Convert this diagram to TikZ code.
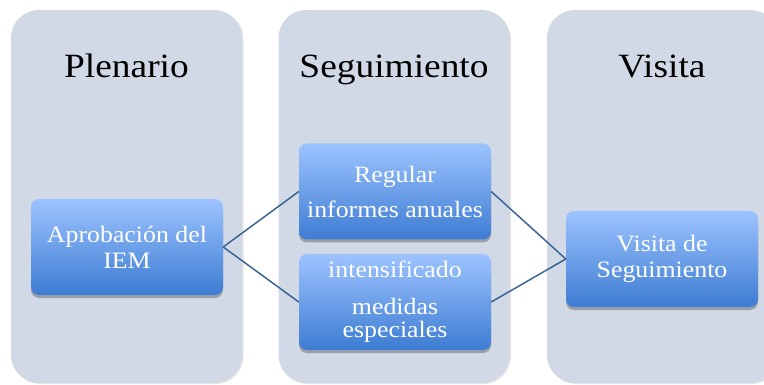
\documentclass[tikz,border=0pt]{standalone}
\usepackage{fontspec}
\setmainfont{Liberation Serif}[FakeStretch=1.1]
\usetikzlibrary{shadows}
\definecolor{colfill}{HTML}{D1D9E6}
\definecolor{boxtop}{HTML}{9DC3FF}
\definecolor{boxbot}{HTML}{3D7CD2}
\definecolor{linkc}{HTML}{3C6494}
\tikzset{
  col/.style={fill=colfill, draw=none, rounded corners=28pt, minimum width=231pt, minimum height=373pt, inner sep=0pt,
    drop shadow={shadow xshift=1.5pt, shadow yshift=-1pt, opacity=0.18, fill=black!60}},
  coltitle/.style={font=\fontsize{34}{40}\selectfont, text=black, inner sep=0pt, anchor=base},
  box/.style={rounded corners=8pt, top color=boxtop, bottom color=boxbot, draw=none,
    minimum width=192pt, minimum height=96pt, inner sep=0pt, align=center, text=white,
    font=\fontsize{23.5}{26}\selectfont,
    drop shadow={shadow xshift=0pt, shadow yshift=-3pt, opacity=0.4, fill=black!70}},
  link/.style={draw=linkc, line width=1.5pt}
}
\begin{document}
\begin{tikzpicture}[x=1pt,y=-1pt]
\useasboundingbox (0,0) rectangle (764,385);
\begin{scope}
\clip (0,0) rectangle (764,385);
\node[col] (c1) at (126.5,196.5) {};
\node[col] (c2) at (394,196.5) {};
\node[col] (c3) at (662.5,196.5) {};
\end{scope}
\node[coltitle] (t1) at (126.5,78) {Plenario};
\node[coltitle] (t2) at (394,78) {Seguimiento};
\node[coltitle] (t3) at (662,78) {Visita};
\node[box] (b1) at (127,247) {Aprobación del\\IEM};
\node[box] (b2) at (395,191.5) {Regular\\[9pt]informes anuales};
\node[box] (b3) at (395,302) {intensificado\\[11pt]medidas\\[-3pt]especiales};
\node[box] (b4) at (662,259) {Visita de\\Seguimiento};
\draw[link] (b1.east) -- (b2.west);
\draw[link] (b1.east) -- (b3.west);
\draw[link] (b2.east) -- (b4.west);
\draw[link] (b3.east) -- (b4.west);
\end{tikzpicture}
\end{document}
